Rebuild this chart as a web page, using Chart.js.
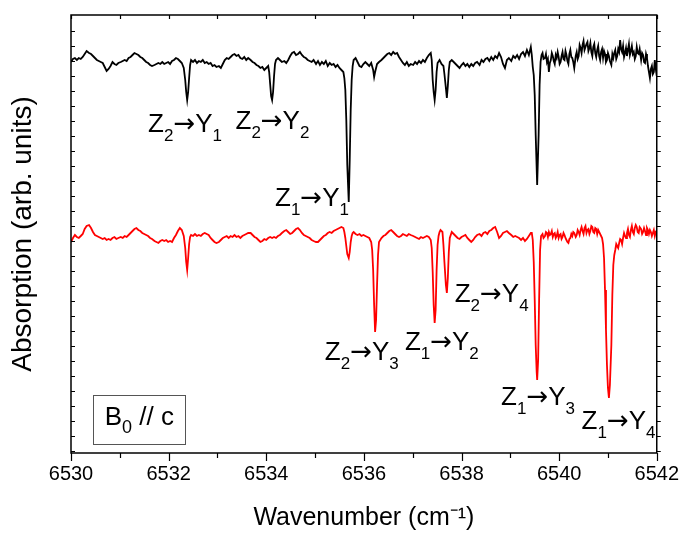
<!DOCTYPE html>
<html>
<head>
<meta charset="utf-8">
<script src="https://cdn.jsdelivr.net/npm/chart.js@4.4.0/dist/chart.umd.min.js"></script>
<style>
  html, body { margin: 0; padding: 0; background: #fff; }
  #wrap { width: 688px; height: 533px; }
</style>
</head>
<body>
<div id="wrap"><canvas id="spectrum" width="688" height="533"></canvas></div>
<script>
// Absorption spectra, B0 // c (upper: black trace, lower: red trace)
const wnMin = 6530;
const wnMax = 6542;
const levelMin = 47;
const levelMax = 485;

// [wavenumber, absorption (arb.)]
const blackTrace = [
  [6530.00,438],[6530.04,441],[6530.08,442],[6530.12,440],[6530.16,442],[6530.20,441],[6530.24,443],[6530.28,446],
  [6530.32,449],[6530.37,447],[6530.41,446],[6530.45,444],[6530.49,442],[6530.53,440],[6530.57,439],[6530.61,438],
  [6530.65,437],[6530.69,433],[6530.73,429],[6530.77,431],[6530.81,434],[6530.85,438],[6530.89,436],[6530.93,435],
  [6530.97,437],[6531.02,438],[6531.06,439],[6531.10,440],[6531.14,439],[6531.18,442],[6531.22,443],[6531.26,445],
  [6531.30,447],[6531.34,446],[6531.38,445],[6531.42,443],[6531.46,442],[6531.50,440],[6531.54,438],[6531.58,437],
  [6531.62,435],[6531.66,434],[6531.71,435],[6531.75,436],[6531.79,437],[6531.83,436],[6531.87,438],[6531.91,436],
  [6531.95,437],[6531.99,438],[6532.03,436],[6532.07,439],[6532.11,440],[6532.15,442],[6532.19,441],[6532.23,439],
  [6532.27,437],[6532.31,432],[6532.34,420],[6532.36,408],[6532.38,400],[6532.40,408],[6532.42,422],[6532.44,435],
  [6532.46,440],[6532.50,438],[6532.54,440],[6532.58,437],[6532.62,439],[6532.66,438],[6532.70,440],[6532.74,437],
  [6532.78,438],[6532.82,436],[6532.86,437],[6532.90,434],[6532.94,435],[6532.98,433],[6533.03,434],[6533.07,432],
  [6533.11,436],[6533.15,440],[6533.19,442],[6533.23,441],[6533.27,443],[6533.31,445],[6533.35,446],[6533.39,444],
  [6533.43,445],[6533.47,442],[6533.51,441],[6533.55,443],[6533.59,440],[6533.63,442],[6533.68,440],[6533.72,438],
  [6533.76,437],[6533.80,435],[6533.84,434],[6533.88,432],[6533.92,433],[6533.96,430],[6534.00,432],[6534.04,434],
  [6534.06,428],[6534.08,416],[6534.10,404],[6534.12,400],[6534.14,408],[6534.16,424],[6534.18,436],[6534.20,440],
  [6534.24,442],[6534.28,440],[6534.32,438],[6534.37,439],[6534.41,437],[6534.45,440],[6534.49,444],[6534.53,447],
  [6534.57,448],[6534.61,445],[6534.65,446],[6534.69,448],[6534.73,445],[6534.77,443],[6534.81,442],[6534.85,440],
  [6534.89,439],[6534.93,438],[6534.97,440],[6535.02,436],[6535.06,439],[6535.10,435],[6535.14,438],[6535.18,436],
  [6535.22,439],[6535.26,434],[6535.30,437],[6535.34,435],[6535.38,436],[6535.42,433],[6535.46,435],[6535.50,432],
  [6535.54,430],[6535.58,428],[6535.60,422],[6535.62,410],[6535.64,380],[6535.66,335],[6535.69,298],[6535.71,340],
  [6535.73,390],[6535.75,420],[6535.77,434],[6535.79,440],[6535.83,442],[6535.87,438],[6535.91,434],[6535.95,433],
  [6535.99,436],[6536.03,438],[6536.07,436],[6536.11,434],[6536.15,437],[6536.19,430],[6536.21,423],[6536.23,428],
  [6536.27,436],[6536.31,438],[6536.36,440],[6536.40,442],[6536.44,444],[6536.48,446],[6536.52,447],[6536.56,445],
  [6536.60,448],[6536.64,446],[6536.68,447],[6536.72,443],[6536.76,440],[6536.80,437],[6536.84,435],[6536.88,438],
  [6536.92,434],[6536.96,436],[6537.01,435],[6537.05,438],[6537.09,436],[6537.13,439],[6537.17,437],[6537.21,440],
  [6537.25,438],[6537.29,442],[6537.33,445],[6537.37,447],[6537.39,440],[6537.41,420],[6537.43,408],[6537.45,400],
  [6537.47,410],[6537.49,428],[6537.51,437],[6537.55,440],[6537.59,436],[6537.63,434],[6537.65,426],[6537.68,412],
  [6537.70,402],[6537.72,414],[6537.74,430],[6537.76,438],[6537.80,440],[6537.84,438],[6537.88,436],[6537.92,434],
  [6537.96,432],[6538.00,435],[6538.04,437],[6538.08,434],[6538.12,436],[6538.16,433],[6538.20,436],[6538.24,434],
  [6538.28,437],[6538.32,438],[6538.37,435],[6538.41,440],[6538.45,438],[6538.49,441],[6538.53,442],[6538.57,439],
  [6538.61,443],[6538.65,440],[6538.69,444],[6538.73,442],[6538.77,447],[6538.81,443],[6538.85,436],[6538.89,432],
  [6538.93,440],[6538.97,442],[6539.02,439],[6539.06,444],[6539.10,442],[6539.14,445],[6539.18,441],[6539.22,446],
  [6539.26,448],[6539.30,444],[6539.34,450],[6539.38,445],[6539.42,453],[6539.44,445],[6539.46,433],[6539.48,425],
  [6539.50,405],[6539.52,365],[6539.55,315],[6539.58,365],[6539.60,415],[6539.62,438],[6539.64,445],[6539.66,447],
  [6539.68,441],[6539.71,442],[6539.73,446],[6539.75,438],[6539.77,441],[6539.79,428],[6539.81,437],[6539.83,440],
  [6539.85,447],[6539.87,444],[6539.89,439],[6539.91,436],[6539.93,445],[6539.95,442],[6539.97,448],[6539.99,443],
  [6540.01,436],[6540.03,438],[6540.05,444],[6540.07,448],[6540.09,441],[6540.11,440],[6540.13,449],[6540.15,445],
  [6540.17,439],[6540.19,436],[6540.21,446],[6540.23,450],[6540.25,443],[6540.27,442],[6540.29,438],[6540.31,432],
  [6540.34,444],[6540.36,448],[6540.38,441],[6540.40,444],[6540.42,455],[6540.44,452],[6540.46,447],[6540.48,455],
  [6540.50,459],[6540.52,450],[6540.54,453],[6540.56,456],[6540.58,458],[6540.60,449],[6540.62,452],[6540.64,457],
  [6540.66,448],[6540.68,444],[6540.70,453],[6540.72,456],[6540.74,447],[6540.76,443],[6540.78,450],[6540.80,454],
  [6540.82,444],[6540.84,440],[6540.86,448],[6540.88,451],[6540.90,442],[6540.92,449],[6540.94,446],[6540.96,438],
  [6540.98,440],[6541.00,447],[6541.02,444],[6541.04,439],[6541.07,435],[6541.09,446],[6541.11,442],[6541.13,447],
  [6541.15,450],[6541.17,441],[6541.19,444],[6541.21,451],[6541.23,448],[6541.25,460],[6541.27,451],[6541.29,448],
  [6541.31,454],[6541.33,443],[6541.35,447],[6541.37,452],[6541.39,444],[6541.41,450],[6541.43,456],[6541.45,445],
  [6541.47,449],[6541.49,454],[6541.51,446],[6541.53,448],[6541.55,441],[6541.57,444],[6541.59,453],[6541.61,447],
  [6541.63,446],[6541.65,451],[6541.68,440],[6541.70,447],[6541.72,445],[6541.74,438],[6541.76,437],[6541.78,446],
  [6541.80,442],[6541.82,434],[6541.84,428],[6541.86,422],[6541.88,431],[6541.90,434],[6541.92,426],[6541.94,428],
  [6541.96,440],[6541.98,431],[6542.00,424]
];

const redTrace = [
  [6530.00,258],[6530.04,262],[6530.08,265],[6530.12,263],[6530.16,262],[6530.20,264],[6530.24,266],[6530.28,271],
  [6530.32,274],[6530.37,275],[6530.41,272],[6530.45,268],[6530.49,265],[6530.53,264],[6530.57,263],[6530.61,262],
  [6530.65,261],[6530.69,262],[6530.73,260],[6530.77,261],[6530.81,260],[6530.85,262],[6530.89,263],[6530.93,261],
  [6530.97,262],[6531.02,263],[6531.06,262],[6531.10,264],[6531.14,263],[6531.18,265],[6531.22,267],[6531.26,269],
  [6531.30,271],[6531.34,272],[6531.38,270],[6531.42,269],[6531.46,267],[6531.50,266],[6531.54,265],[6531.58,264],
  [6531.62,262],[6531.66,261],[6531.71,259],[6531.75,258],[6531.79,257],[6531.83,259],[6531.87,260],[6531.91,259],
  [6531.95,260],[6531.99,258],[6532.03,259],[6532.07,258],[6532.11,262],[6532.15,265],[6532.19,269],[6532.23,272],
  [6532.27,270],[6532.31,264],[6532.34,252],[6532.36,238],[6532.38,230],[6532.40,242],[6532.42,256],[6532.44,263],
  [6532.46,265],[6532.50,264],[6532.54,266],[6532.58,264],[6532.62,265],[6532.66,264],[6532.70,266],[6532.74,267],
  [6532.78,266],[6532.82,265],[6532.86,262],[6532.90,260],[6532.94,258],[6532.98,257],[6533.03,258],[6533.07,260],
  [6533.11,262],[6533.15,263],[6533.19,264],[6533.23,262],[6533.27,264],[6533.31,263],[6533.35,265],[6533.39,263],
  [6533.43,264],[6533.47,262],[6533.51,264],[6533.55,265],[6533.59,266],[6533.63,267],[6533.68,267],[6533.72,265],
  [6533.76,263],[6533.80,262],[6533.84,260],[6533.88,258],[6533.92,259],[6533.96,261],[6534.00,260],[6534.04,262],
  [6534.08,263],[6534.12,262],[6534.16,263],[6534.20,262],[6534.24,264],[6534.28,265],[6534.32,267],[6534.37,269],
  [6534.41,270],[6534.45,268],[6534.49,266],[6534.53,267],[6534.57,269],[6534.61,271],[6534.65,272],[6534.69,270],
  [6534.73,267],[6534.77,265],[6534.81,264],[6534.85,263],[6534.89,262],[6534.93,260],[6534.97,259],[6535.02,258],
  [6535.06,258],[6535.10,260],[6535.14,262],[6535.18,264],[6535.22,265],[6535.26,267],[6535.30,268],[6535.34,267],
  [6535.38,269],[6535.42,270],[6535.46,271],[6535.50,272],[6535.54,273],[6535.58,272],[6535.60,268],[6535.62,262],
  [6535.64,254],[6535.66,246],[6535.69,242],[6535.71,248],[6535.73,258],[6535.75,264],[6535.77,267],[6535.79,268],
  [6535.83,266],[6535.87,265],[6535.91,266],[6535.95,264],[6535.99,265],[6536.03,264],[6536.07,263],[6536.11,262],
  [6536.15,258],[6536.17,250],[6536.19,230],[6536.21,195],[6536.23,168],[6536.25,180],[6536.27,215],[6536.29,245],
  [6536.31,258],[6536.36,262],[6536.40,264],[6536.44,265],[6536.48,267],[6536.52,269],[6536.56,270],[6536.60,268],
  [6536.64,266],[6536.68,264],[6536.72,263],[6536.76,264],[6536.80,266],[6536.84,265],[6536.88,264],[6536.92,266],
  [6536.96,265],[6537.01,264],[6537.05,263],[6537.09,262],[6537.13,261],[6537.17,263],[6537.21,262],[6537.25,263],
  [6537.29,264],[6537.33,263],[6537.37,260],[6537.39,252],[6537.41,228],[6537.43,195],[6537.45,177],[6537.47,190],
  [6537.49,230],[6537.51,255],[6537.53,264],[6537.55,268],[6537.57,270],[6537.61,268],[6537.63,255],[6537.65,238],
  [6537.68,215],[6537.70,207],[6537.72,222],[6537.74,248],[6537.76,262],[6537.80,268],[6537.84,266],[6537.88,264],
  [6537.92,262],[6537.96,261],[6538.00,263],[6538.04,264],[6538.08,265],[6538.12,262],[6538.16,260],[6538.20,258],
  [6538.24,260],[6538.28,263],[6538.32,265],[6538.37,266],[6538.41,264],[6538.45,267],[6538.49,268],[6538.53,266],
  [6538.57,269],[6538.61,270],[6538.65,272],[6538.69,273],[6538.73,268],[6538.77,262],[6538.81,264],[6538.85,267],
  [6538.89,268],[6538.93,269],[6538.97,267],[6539.02,265],[6539.06,263],[6539.10,264],[6539.14,263],[6539.18,262],
  [6539.22,260],[6539.26,262],[6539.30,259],[6539.34,261],[6539.38,264],[6539.42,267],[6539.44,267],[6539.46,260],
  [6539.48,238],[6539.50,200],[6539.52,155],[6539.54,128],[6539.55,120],[6539.57,140],[6539.59,200],[6539.61,250],
  [6539.63,264],[6539.66,266],[6539.68,262],[6539.71,264],[6539.73,268],[6539.75,267],[6539.77,263],[6539.79,268],
  [6539.81,265],[6539.83,266],[6539.85,269],[6539.87,263],[6539.89,266],[6539.91,267],[6539.93,262],[6539.95,264],
  [6539.97,268],[6539.99,262],[6540.01,265],[6540.03,266],[6540.05,261],[6540.07,263],[6540.09,267],[6540.11,265],
  [6540.13,262],[6540.15,260],[6540.17,258],[6540.19,257],[6540.21,261],[6540.23,262],[6540.25,266],[6540.27,264],
  [6540.29,268],[6540.31,267],[6540.34,263],[6540.36,265],[6540.38,270],[6540.40,268],[6540.42,265],[6540.44,270],
  [6540.46,273],[6540.48,269],[6540.50,266],[6540.52,272],[6540.54,274],[6540.56,267],[6540.58,270],[6540.60,271],
  [6540.62,266],[6540.64,269],[6540.66,274],[6540.68,273],[6540.70,268],[6540.72,267],[6540.74,272],[6540.76,271],
  [6540.78,266],[6540.80,270],[6540.82,268],[6540.84,266],[6540.86,264],[6540.88,262],[6540.90,256],[6540.92,242],
  [6540.94,210],[6540.96,170],[6540.98,135],[6541.00,112],[6541.02,102],[6541.04,115],[6541.07,155],[6541.09,205],
  [6541.11,235],[6541.13,245],[6541.15,250],[6541.17,256],[6541.19,254],[6541.21,252],[6541.23,257],[6541.25,261],
  [6541.27,260],[6541.29,256],[6541.31,262],[6541.33,267],[6541.35,264],[6541.37,262],[6541.39,267],[6541.41,271],
  [6541.43,265],[6541.45,263],[6541.47,270],[6541.49,274],[6541.51,268],[6541.53,266],[6541.55,272],[6541.57,275],
  [6541.59,273],[6541.61,268],[6541.63,267],[6541.65,273],[6541.68,271],[6541.70,266],[6541.72,268],[6541.74,272],
  [6541.76,269],[6541.78,265],[6541.80,272],[6541.82,270],[6541.84,266],[6541.86,270],[6541.88,268],[6541.90,264],
  [6541.92,267],[6541.94,270],[6541.96,264],[6541.98,268],[6542.00,267]
];

// transition labels: text, left edge (cm-1), baseline level
const transitionText = ['Z2→Y1', 'Z2→Y2', 'Z1→Y1', 'Z2→Y3', 'Z1→Y2', 'Z2→Y4', 'Z1→Y3', 'Z1→Y4'];
const transitionWn = [6531.58, 6533.37, 6534.18, 6535.20, 6536.84, 6537.86, 6538.81, 6540.46];
const transitionLevel = [368, 371, 294, 140, 150, 198, 95, 71];

// field orientation box
const fieldText = 'B0 // c';
const fieldBoxWn = [6530.45, 6532.34];
const fieldBoxLevel = [105, 56];
const fieldTextPos = [6530.69, 75];

const FONT = "'Liberation Sans', Arial, sans-serif";
const TICK_FONT = "'Liberation Sans Narrow', 'Liberation Sans', Arial, sans-serif";

function drawRich(ctx, text, x, y, size, subSize, subShift) {
    // digit right after a letter is drawn as subscript
    let cx = x;
    for (let i = 0; i < text.length; i++) {
        const ch = text[i];
        const isSub = /[0-9]/.test(ch) && i > 0 && /[A-Z]/.test(text[i - 1]);
        if (ch === '→') ctx.font = size + "px 'DejaVu Sans'";
        else ctx.font = (isSub ? subSize : size) + 'px ' + FONT;
        ctx.fillText(ch, cx, y + (isSub ? subShift : 0));
        cx += ctx.measureText(ch).width;
    }
}

const framePlugin = {
    id: 'frame',
    afterDraw(chart) {
        const { ctx, chartArea: a, scales: { x, y } } = chart;
        ctx.save();
        ctx.strokeStyle = '#000';
        ctx.lineWidth = 1.5;
        ctx.strokeRect(a.left, a.top, a.right - a.left, a.bottom - a.top);
        ctx.lineWidth = 1.2;
        ctx.beginPath();
        x.ticks.forEach(t => {
            const px = Math.round(x.getPixelForValue(t.value)) + 0.5;
            const major = t.value % 2 === 0;
            ctx.moveTo(px, a.bottom);
            ctx.lineTo(px, a.bottom + (major ? 8 : 5));
            ctx.moveTo(px, a.top);
            ctx.lineTo(px, a.top + 4);
        });
        y.ticks.forEach(t => {
            const py = Math.round(y.getPixelForValue(t.value)) + 0.5;
            ctx.moveTo(a.left, py);
            ctx.lineTo(a.left + 4, py);
            ctx.moveTo(a.right, py);
            ctx.lineTo(a.right + 4, py);
        });
        ctx.stroke();
        ctx.restore();
    }
};

const labelPlugin = {
    id: 'transitionLabels',
    afterDatasetsDraw(chart) {
        const { ctx, scales: { x, y } } = chart;
        ctx.save();
        ctx.fillStyle = '#000';
        ctx.textBaseline = 'alphabetic';
        transitionText.forEach((txt, i) => {
            drawRich(ctx, txt, x.getPixelForValue(transitionWn[i]), y.getPixelForValue(transitionLevel[i]), 26, 17, 9);
        });
        // B0 // c box
        const bx0 = x.getPixelForValue(fieldBoxWn[0]);
        const bx1 = x.getPixelForValue(fieldBoxWn[1]);
        const by0 = y.getPixelForValue(fieldBoxLevel[0]);
        const by1 = y.getPixelForValue(fieldBoxLevel[1]);
        ctx.strokeStyle = '#555';
        ctx.lineWidth = 1;
        ctx.strokeRect(Math.round(bx0) + 0.5, Math.round(by0) + 0.5, Math.round(bx1 - bx0), Math.round(by1 - by0));
        drawRich(ctx, fieldText, x.getPixelForValue(fieldTextPos[0]), y.getPixelForValue(fieldTextPos[1]), 26, 18, 8);
        ctx.restore();
    }
};

const toPoints = arr => arr.map(([wn, v]) => ({ x: wn, y: v }));

new Chart(document.getElementById('spectrum'), {
    type: 'line',
    data: {
        datasets: [
            {
                label: 'upper',
                data: toPoints(blackTrace),
                borderColor: '#000000',
                borderWidth: 1.8,
                pointRadius: 0,
                tension: 0
            },
            {
                label: 'lower',
                data: toPoints(redTrace),
                borderColor: '#ff0000',
                borderWidth: 1.8,
                pointRadius: 0,
                tension: 0
            }
        ]
    },
    options: {
        responsive: false,
        animation: false,
        events: [],
        layout: { padding: { top: 15, right: 26, left: 0, bottom: 0 } },
        plugins: {
            legend: { display: false },
            tooltip: { enabled: false }
        },
        scales: {
            x: {
                type: 'linear',
                min: wnMin,
                max: wnMax,
                grid: { display: false, drawTicks: false },
                border: { display: false },
                ticks: {
                    stepSize: 1,
                    padding: 9,
                    color: '#000',
                    font: { family: TICK_FONT, size: 20 },
                    maxRotation: 0,
                    autoSkip: false,
                    callback: v => (v % 2 === 0 ? String(v) : '')
                },
                title: {
                    display: true,
                    text: 'Wavenumber (cm⁻¹)',
                    color: '#000',
                    font: { family: FONT, size: 25 },
                    padding: { top: 0, bottom: 0 }
                },
                afterFit: s => { s.height = 80; }
            },
            y: {
                type: 'linear',
                min: levelMin,
                max: levelMax,
                grid: { display: false },
                border: { display: false },
                ticks: { display: false },
                afterBuildTicks: s => {
                    const ticks = [];
                    for (let v = 469; v >= levelMin; v -= 15) ticks.push({ value: v });
                    s.ticks = ticks;
                },
                title: {
                    display: true,
                    text: 'Absorption (arb. units)',
                    color: '#000',
                    font: { family: FONT, size: 28 },
                    padding: { top: 6, bottom: 0 }
                },
                afterFit: s => { s.width = 71; }
            }
        }
    },
    plugins: [framePlugin, labelPlugin]
});
</script>
</body>
</html>
